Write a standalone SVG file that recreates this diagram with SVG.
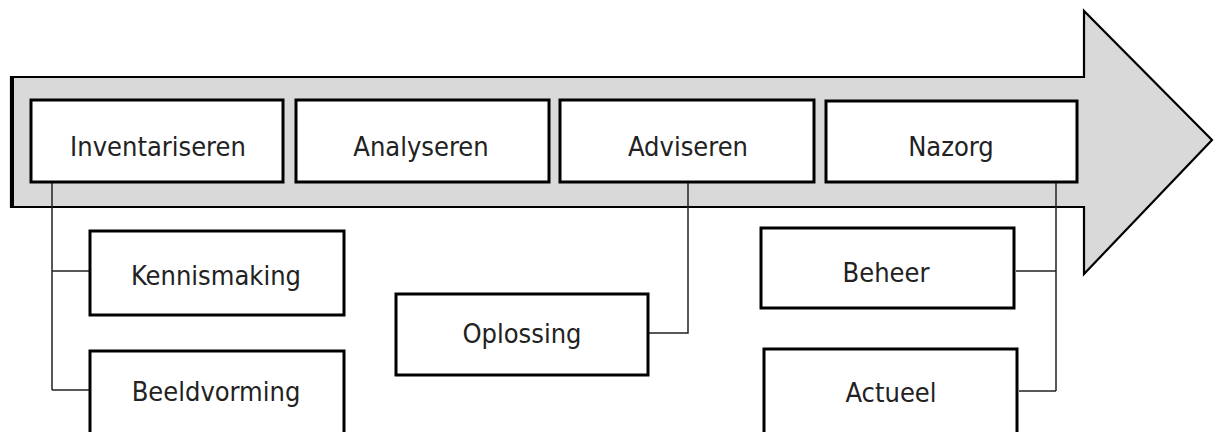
<svg xmlns="http://www.w3.org/2000/svg" width="1214" height="432" viewBox="0 0 1214 432">
<style>
.box{fill:#fff;stroke:#000;stroke-width:3}
.lbl{font-family:"DejaVu Sans Condensed","DejaVu Sans",Verdana,sans-serif;font-stretch:condensed;font-size:27px;fill:#222;text-anchor:middle}
.con{fill:none;stroke:#222;stroke-width:1.5}
</style>
<rect width="1214" height="432" fill="#fff"/>
<g id="arrow">
<path d="M11,77 H1084 V11 L1212,140 L1084,274 V207 H11 Z" fill="#d9d9d9" stroke="#000" stroke-width="2.2" stroke-linejoin="miter"/>
<line x1="12" y1="76" x2="12" y2="208" stroke="#000" stroke-width="4"/>
</g>
<g id="connectors">
<path class="con" d="M52,183 V390 M52,271 H90 M52,390 H90"/>
<path class="con" d="M688,183 V333 H649"/>
<path class="con" d="M1056,183 V391 M1056,271 H1016 M1056,391 H1019"/>
</g>
<g id="inventariseren"><rect class="box" x="31" y="100" width="252" height="82"/><text class="lbl" x="158" y="156">Inventariseren</text></g>
<g id="analyseren"><rect class="box" x="296" y="100" width="253" height="82"/><text class="lbl" x="421" y="156">Analyseren</text></g>
<g id="adviseren"><rect class="box" x="560" y="100" width="254" height="82"/><text class="lbl" x="688" y="156">Adviseren</text></g>
<g id="nazorg"><rect class="box" x="826" y="101" width="251" height="81"/><text class="lbl" x="951" y="156">Nazorg</text></g>
<g id="kennismaking"><rect class="box" x="90" y="231" width="254" height="84"/><text class="lbl" x="216" y="285">Kennismaking</text></g>
<g id="beeldvorming"><rect class="box" x="90" y="351" width="254" height="90"/><text class="lbl" x="216" y="401">Beeldvorming</text></g>
<g id="oplossing"><rect class="box" x="396" y="294" width="252" height="81"/><text class="lbl" x="522" y="343">Oplossing</text></g>
<g id="beheer"><rect class="box" x="761" y="228" width="253" height="80"/><text class="lbl" x="886" y="282">Beheer</text></g>
<g id="actueel"><rect class="box" x="764" y="349" width="253" height="92"/><text class="lbl" x="891" y="402">Actueel</text></g>
</svg>
